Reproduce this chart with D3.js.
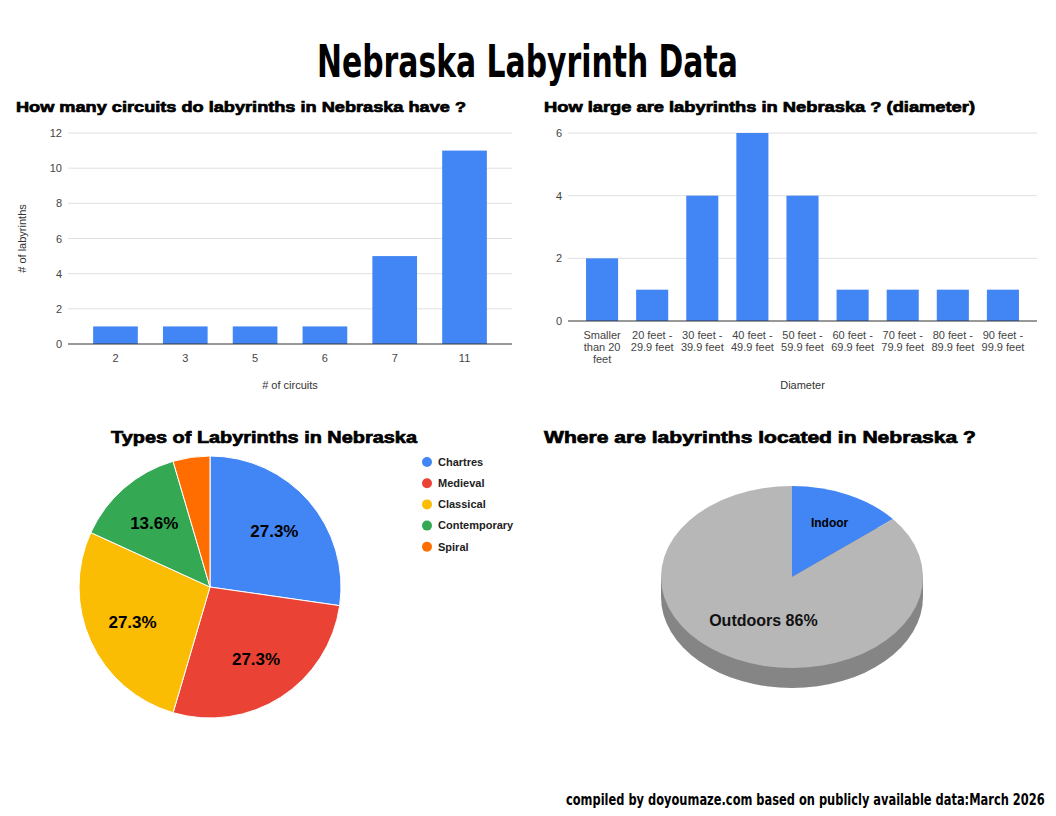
<!DOCTYPE html>
<html>
<head>
<meta charset="utf-8">
<title>Nebraska Labyrinth Data</title>
<script src="https://cdnjs.cloudflare.com/ajax/libs/d3/7.8.5/d3.min.js"></script>
<style>
  body { margin: 0; background: #fff; }
  text { font-family: "Liberation Sans", Arial, sans-serif; }
  .heavy { font-weight: bold; stroke: #000; stroke-width: 0.7px; paint-order: stroke; }
  .impact { font-family: "DejaVu Sans Condensed", "DejaVu Sans", sans-serif; font-weight: bold; }
  .tick text { fill: #444; font-size: 11px; }
</style>
</head>
<body>
<div id="chart"></div>
<script>

// circuits chart
var circuits = ['2', '3', '5', '6', '7', '11'];
var circuitCounts = [1, 1, 1, 1, 5, 11];
var circuitTicks = [0, 2, 4, 6, 8, 10, 12];

// diameter chart
var sizes = ['Smaller than 20 feet', '20 feet - 29.9 feet', '30 feet - 39.9 feet',
  '40 feet - 49.9 feet', '50 feet - 59.9 feet', '60 feet - 69.9 feet',
  '70 feet - 79.9 feet', '80 feet - 89.9 feet', '90 feet - 99.9 feet'];
var sizeCounts = [2, 1, 4, 6, 4, 1, 1, 1, 1];
var sizeTicks = [0, 2, 4, 6];

// types pie
var types = ['Chartres', 'Medieval', 'Classical', 'Contemporary', 'Spiral'];
var typeCounts = [6, 6, 6, 3, 1];
var typeColors = ['#4285f4', '#ea4335', '#fbbc04', '#34a853', '#ff6d01'];

// location pie
var places = ['Indoor', 'Outdoors'];
var placeShares = [14, 86];

var W = 1056, H = 816;
var svg = d3.select('#chart').append('svg').attr('width', W).attr('height', H);

function fitText(sel, w) {
  sel.attr('textLength', w).attr('lengthAdjust', 'spacingAndGlyphs');
}

// squeeze a text horizontally to a given width (left edge x)
function squeeze(txt, size, x, y, w) {
  var t = svg.append('text').attr('class', 'impact').attr('font-size', size).text(txt);
  var len = t.node().getComputedTextLength();
  t.attr('transform', 'translate(' + x + ',' + y + ') scale(' + (w / len) + ',1)');
  return t;
}

squeeze('Nebraska Labyrinth Data', 44, 317, 77, 421);
squeeze('compiled by doyoumaze.com based on publicly available data:March 2026', 15, 566, 805, 479);

// bar chart helper
function barChart(o) {
  var g = svg.append('g');
  var x = d3.scaleBand().domain(o.cats).range([o.x0, o.x1]).paddingInner(0.36).paddingOuter(0.36);
  var y = d3.scaleLinear().domain([0, d3.max(o.ticks)]).range([o.y0, o.y1]);

  g.append('text').attr('class', 'heavy').attr('x', o.tx).attr('y', 112)
    .attr('font-size', 15).text(o.title).call(fitText, o.tw);

  g.append('g').selectAll('line').data(o.ticks.slice(1)).enter().append('line')
    .attr('x1', o.x0).attr('x2', o.x1)
    .attr('y1', function(d) { return y(d); }).attr('y2', function(d) { return y(d); })
    .attr('stroke', '#e0e0e0');

  g.append('g').attr('transform', 'translate(' + o.x0 + ',0)')
    .call(d3.axisLeft(y).tickValues(o.ticks).tickFormat(d3.format('d')).tickSize(0).tickPadding(6))
    .call(function(a) { a.select('.domain').remove(); });

  g.selectAll('rect.bar').data(o.vals).enter().append('rect')
    .attr('x', function(d, i) { return x(o.cats[i]); })
    .attr('width', x.bandwidth())
    .attr('y', function(d) { return y(d); })
    .attr('height', function(d) { return y(0) - y(d); })
    .attr('fill', '#4285f4');

  g.append('line').attr('x1', o.x0).attr('x2', o.x1)
    .attr('y1', y(0)).attr('y2', y(0)).attr('stroke', '#333');

  var xa = g.append('g').attr('transform', 'translate(0,' + o.y0 + ')')
    .call(d3.axisBottom(x).tickSize(0).tickPadding(10));
  xa.select('.domain').remove();
  if (o.wrap) {
    xa.selectAll('.tick text').each(function(d) {
      var t = d3.select(this), lines = o.wrap(d);
      t.text(null);
      lines.forEach(function(l, i) {
        t.append('tspan').attr('x', 0).attr('dy', i ? '1.1em' : '0.71em').text(l);
      });
    }).attr('dy', null);
  }

  g.append('text').attr('x', (o.x0 + o.x1) / 2).attr('y', 389)
    .attr('text-anchor', 'middle').attr('font-size', 11).attr('fill', '#333').text(o.xt);
  if (o.yt) {
    g.append('text').attr('transform', 'translate(' + o.ytx + ',' + ((o.y0 + o.y1) / 2) + ') rotate(-90)')
      .attr('text-anchor', 'middle').attr('font-size', 11).attr('fill', '#333').text(o.yt);
  }
}

barChart({
  cats: circuits, vals: circuitCounts, ticks: circuitTicks,
  x0: 68, x1: 512, y0: 344, y1: 133,
  title: 'How many circuits do labyrinths in Nebraska have ?', tx: 16, tw: 450,
  xt: '# of circuits', yt: '# of labyrinths', ytx: 26
});

barChart({
  cats: sizes, vals: sizeCounts, ticks: sizeTicks,
  x0: 568, x1: 1037, y0: 321, y1: 133,
  title: 'How large are labyrinths in Nebraska ? (diameter)', tx: 544, tw: 431,
  xt: 'Diameter',
  wrap: function(d) {
    if (d.indexOf('Smaller') === 0) return ['Smaller', 'than 20', 'feet'];
    var p = d.split(' - ');
    return [p[0] + ' -', p[1]];
  }
});

// types pie
var pcx = 210, pcy = 587, pr = 131;
var pg = svg.append('g').attr('transform', 'translate(' + pcx + ',' + pcy + ')');
var pie = d3.pie().sort(null);
var arcs = pie(typeCounts);
var arc = d3.arc().innerRadius(0).outerRadius(pr);
var labelArc = d3.arc().innerRadius(pr * 0.65).outerRadius(pr * 0.65);
var total = d3.sum(typeCounts);

pg.selectAll('path').data(arcs).enter().append('path')
  .attr('d', arc).attr('fill', function(d, i) { return typeColors[i]; })
  .attr('stroke', '#fff').attr('stroke-width', 1);

pg.selectAll('text.pl').data(arcs.filter(function(d) { return d.data / total > 0.1; }))
  .enter().append('text')
  .attr('transform', function(d) { return 'translate(' + labelArc.centroid(d) + ')'; })
  .attr('text-anchor', 'middle').attr('dy', '0.35em')
  .attr('font-size', 17).attr('font-weight', 'bold')
  .text(function(d) { return (d.data / total * 100).toFixed(1) + '%'; });

svg.append('text').attr('class', 'heavy').attr('x', 264).attr('y', 443)
  .attr('text-anchor', 'middle').attr('font-size', 17)
  .text('Types of Labyrinths in Nebraska').call(fitText, 306);

var leg = svg.append('g').selectAll('g').data(types).enter().append('g')
  .attr('transform', function(d, i) { return 'translate(427,' + (462 + i * 21.2) + ')'; });
leg.append('circle').attr('r', 5).attr('fill', function(d, i) { return typeColors[i]; });
leg.append('text').attr('x', 11).attr('dy', '0.35em').attr('font-size', 11)
  .attr('font-weight', 'bold').attr('fill', '#222').text(function(d) { return d; });

// location pie (tilted)
var lcx = 792, lcy = 577, lrx = 131, lry = 91, depth = 20;
var ratio = lry / lrx;
svg.append('text').attr('class', 'heavy').attr('x', 544).attr('y', 443)
  .attr('font-size', 17).text('Where are labyrinths located in Nebraska ?').call(fitText, 432);

var lg = svg.append('g');
var full = d3.arc().innerRadius(0).outerRadius(lrx)({ startAngle: 0, endAngle: 2 * Math.PI });
lg.append('path').attr('d', full)
  .attr('transform', 'translate(' + lcx + ',' + (lcy + depth) + ') scale(1,' + ratio + ')')
  .attr('fill', '#858585');
lg.append('rect').attr('x', lcx - lrx).attr('y', lcy).attr('width', 2 * lrx).attr('height', depth)
  .attr('fill', '#858585');

var face = lg.append('g').attr('transform', 'translate(' + lcx + ',' + lcy + ') scale(1,' + ratio + ')');
var larcs = d3.pie().sort(null)(placeShares);
var larc = d3.arc().innerRadius(0).outerRadius(lrx);
face.selectAll('path').data(larcs).enter().append('path')
  .attr('d', larc).attr('fill', function(d, i) { return i === 0 ? '#4285f4' : '#b7b7b7'; });

var la = d3.arc().innerRadius(lrx * 0.62).outerRadius(lrx * 0.62);
var c0 = la.centroid(larcs[0]);
svg.append('text').attr('x', lcx + c0[0] + 3).attr('y', lcy + c0[1] * ratio + 1)
  .attr('text-anchor', 'middle').attr('font-size', 12).attr('font-weight', 'bold')
  .text(places[0]);
var c1 = la.centroid(larcs[1]);
svg.append('text').attr('x', lcx + c1[0] + 6).attr('y', lcy + c1[1] * ratio - 2)
  .attr('text-anchor', 'middle').attr('font-size', 16).attr('font-weight', 'bold')
  .attr('fill', '#111')
  .text(places[1] + ' ' + placeShares[1] + '%');

</script>
</body>
</html>
